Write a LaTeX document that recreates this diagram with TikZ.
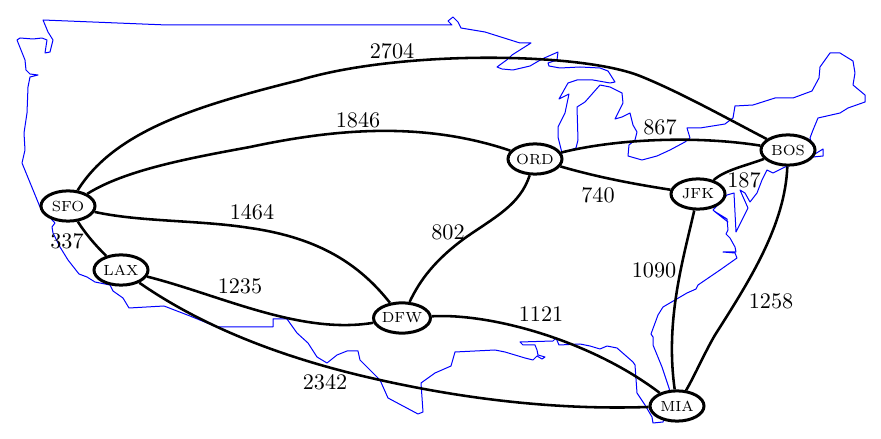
\documentclass[tikz,border=0pt]{standalone}
\usetikzlibrary{shapes.geometric}
\definecolor{coastblue}{RGB}{0,0,255}
\begin{document}
\begin{tikzpicture}[x=0.45pt,y=-0.45pt,
	airport/.style={ellipse, draw=black, fill=white, line width=1.35pt, inner sep=0pt, minimum width=24.3pt, minimum height=13.6pt, font=\fontsize{6.6}{8}\selectfont},
	dist/.style={inner sep=0pt, font=\normalsize},
	route/.style={draw=black, line width=1.15pt},
	coast/.style={draw=coastblue, line width=0.45pt, line join=round}]
	\useasboundingbox (0,0) rectangle (881,439);

	%Map
	\draw[coast] (43,20) -- (167,25) -- (452,25) -- (448,21) -- (453,17) -- (458,22) -- (461,28) -- (485,32) -- (520,43) -- (531,43) -- (512,55) -- (508,59) -- (497,67) -- (502,69) -- (513,70) -- (530,66) -- (542,59) -- (558,52) -- (557,60) -- (548,63) -- (549,66) -- (560,68) -- (580,67) -- (600,68) -- (608,71) -- (615,82) -- (610,83) -- (593,80) -- (577,80) -- (568,83) -- (559,99) -- (569,94) -- (565,113) -- (558,127) -- (558,137) -- (562,153) -- (576,148) -- (578,140) -- (577,107) -- (585,102) -- (600,85) -- (610,87) -- (622,93) -- (623,103) -- (615,119) -- (622,117) -- (630,113) -- (633,125) -- (637,132) -- (635,140) -- (629,145) -- (628,156) -- (642,160) -- (657,156) -- (670,150) -- (685,142) -- (690,138) -- (687,128) -- (700,128) -- (725,124) -- (733,118) -- (735,106) -- (753,105) -- (775,98) -- (793,98) -- (812,91) -- (819,78) -- (820,67) -- (830,53) -- (840,53) -- (853,61) -- (855,73) -- (853,85) -- (865,95) -- (865,102) -- (848,108) -- (840,113) -- (818,118) -- (813,130) -- (810,138) -- (815,154) -- (823,149) -- (823,156) -- (813,157) -- (785,167) -- (773,173) -- (767,170) -- (762,180) -- (757,193) -- (750,202) -- (745,193) -- (740,190) -- (748,208) -- (736,232) -- (734,193) -- (727,195) -- (713,210) -- (728,222) -- (714,211) -- (727,219) -- (728,230) -- (726,234) -- (730,238) -- (735,247) -- (736,252) -- (723,252) -- (735,253) -- (737,258) -- (720,270) -- (698,285) -- (696,289) -- (687,293) -- (663,307) -- (658,315) -- (651,334) -- (653,337) -- (653,345) -- (662,367) -- (669,388) -- (672,400) -- (663,422) -- (653,423) -- (652,417) -- (645,405) -- (637,393) -- (635,365) -- (633,362) -- (625,355) -- (617,348) -- (607,346) -- (600,349) -- (590,346) -- (580,344) -- (559,345) -- (556,338) -- (553,341) -- (520,342) -- (523,345) -- (535,345) -- (537,350) -- (538,355) -- (545,357) -- (542,359) -- (537,356) -- (533,360) -- (525,358) -- (505,352) -- (495,350) -- (455,352) -- (451,366) -- (435,373) -- (421,383) -- (423,412) -- (418,414) -- (388,398) -- (380,380) -- (360,360) -- (358,351) -- (347,351) -- (337,355) -- (327,363) -- (317,357) -- (308,343) -- (297,333) -- (287,319) -- (273,319) -- (273,327) -- (217,327) -- (190,316) -- (164,306) -- (129,308) -- (123,298) -- (113,291) -- (110,285) -- (95,282) -- (87,277) -- (79,274) -- (68,260) -- (60,247) -- (53,233) -- (52,227) -- (55,223) -- (40,207) -- (22,163) -- (25,150) -- (24,133) -- (27,113) -- (28,87) -- (30,77) -- (38,75) -- (30,74) -- (26,70) -- (25,60) -- (17,40) -- (20,38) -- (33,39) -- (42,38) -- (47,40) -- (45,53) -- (50,52) -- (53,40) -- (48,32) -- cycle;

	%Nodes
	\node[airport]	(sfo)	at (68,206) {SFO};
	\node[airport]	(lax)	at (121,270) {LAX};
	\node[airport]	(dfw)	at (402,318) {DFW};
	\node[airport]	(ord)	at (535,159) {ORD};
	\node[airport]	(jfk)	at (698,194) {JFK};
	\node[airport]	(bos)	at (788,150) {BOS};
	\node[airport]	(mia)	at (677,406) {MIA};

	%Lines
	\draw[route] (sfo) .. controls (115,130) and (200,105) .. (300,80) .. controls (400,50) and (580,52) .. (640,76) .. controls (680,92) and (730,120) .. (bos);
	\draw[route] (sfo) .. controls (125,170) and (190,158) .. (250,147) .. controls (330,130) and (420,120) .. (ord);
	\draw[route] (sfo) .. controls (140,222) and (200,220) .. (250,228) .. controls (320,238) and (360,265) .. (dfw);
	\draw[route] (sfo) .. controls (85,233) and (95,245) .. (lax);
	\draw[route] (lax) .. controls (220,295) and (300,335) .. (dfw);
	\draw[route] (lax) .. controls (200,325) and (280,358) .. (380,380) .. controls (470,400) and (560,410) .. (mia);
	\draw[route] (ord) .. controls (520,205) and (495,217) .. (465,238) .. controls (435,260) and (420,280) .. (dfw);
	\draw[route] (dfw) .. controls (490,313) and (590,340) .. (mia);
	\draw[route] (ord) .. controls (620,138) and (700,136) .. (bos);
	\draw[route] (ord) .. controls (600,178) and (640,185) .. (jfk);
	\draw[route] (jfk) .. controls (725,170) and (745,166) .. (bos);
	\draw[route] (jfk) .. controls (683,260) and (665,320) .. (mia);
	\draw[route] (bos) .. controls (785,225) and (750,280) .. (715,335) .. controls (705,352) and (695,375) .. (mia);

	%Labels
	\node[dist]	(d2704)	at (392,51) {2704};
	\node[dist]	(d1846)	at (358,120) {1846};
	\node[dist]	(d1464)	at (252,212) {1464};
	\node[dist]	(d337)	at (67,241) {337};
	\node[dist]	(d1235)	at (240,286) {1235};
	\node[dist]	(d2342)	at (325,382) {2342};
	\node[dist]	(d802)	at (448,232) {802};
	\node[dist]	(d1121)	at (541,314) {1121};
	\node[dist]	(d867)	at (660,127) {867};
	\node[dist]	(d740)	at (598,195) {740};
	\node[dist]	(d187)	at (744,180) {187};
	\node[dist]	(d1090)	at (654,270) {1090};
	\node[dist]	(d1258)	at (771,301) {1258};
\end{tikzpicture}
\end{document}
